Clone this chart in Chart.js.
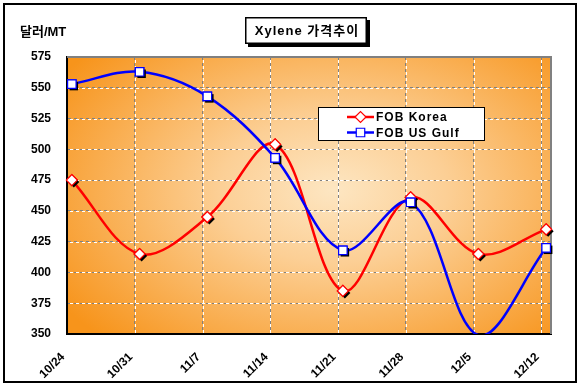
<!DOCTYPE html>
<html><head><meta charset="utf-8">
<script src="https://cdn.jsdelivr.net/npm/chart.js@4.4.0/dist/chart.umd.min.js"></script>
<style>html,body{margin:0;padding:0;background:#fff;}#wrap{position:relative;width:581px;height:387px;}</style>
</head><body><div id="wrap"><canvas id="c" width="581" height="387"></canvas></div>
<script>
const categories = ['10/24','10/31','11/7','11/14','11/21','11/28','12/5','12/12'];
const fobKorea   = [475, 415, 445, 504, 385, 461, 415, 435];
const fobUSGulf  = [553, 563, 543, 493, 418, 457, 349, 420];
const yTickValues = [350, 375, 400, 425, 450, 475, 500, 525, 550, 575];
const seriesNames = ['FOB Korea', 'FOB US Gulf'];
const chartTitle = 'Xylene 가격추이';
const yAxisTitle = '달러/MT';
const DAYS_PER_STEP = 7;

const FONT = "'Liberation Sans', 'Noto Sans CJK KR', Arial, sans-serif";
const RED = '#ff0000', BLUE = '#0000ff';
const Y_MIN = yTickValues[0], Y_MAX = yTickValues[yTickValues.length-1];

function toPoints(vals){ return vals.map((v,i)=>({x: i*DAYS_PER_STEP + 0.5, y: v})); }
function radii(vals, r){ return vals.map(v => (v < Y_MIN || v > Y_MAX) ? 0 : r); }
const xMax = (categories.length-1)*DAYS_PER_STEP + 1;

function marker(ctx, style, r, x, y, stroke, fill){
  ctx.save();
  ctx.fillStyle = fill; ctx.strokeStyle = stroke || fill; ctx.lineWidth = 1.2;
  Chart.helpers.drawPoint(ctx, {pointStyle: style, rotation: 0, radius: r, borderWidth: stroke ? 1.2 : 0}, x, y);
  ctx.restore();
}

const framePlugin = {
  id:'frame',
  beforeDraw(chart){
    const ctx = chart.ctx, a = chart.chartArea;
    ctx.save();
    ctx.fillStyle='#fff'; ctx.fillRect(0,0,chart.width,chart.height);
    ctx.strokeStyle='#000'; ctx.lineWidth=2;
    ctx.strokeRect(4,4,572,378);
    const w=a.right-a.left, h=a.bottom-a.top;
    const cx=a.left+w*0.55, cy=a.top+h*0.48;
    ctx.save();
    ctx.beginPath(); ctx.rect(a.left,a.top,w,h); ctx.clip();
    ctx.translate(cx,cy); ctx.scale(w/h*0.9,1);
    const r = h*0.75;
    const g = ctx.createRadialGradient(0,0,0,0,0,r);
    g.addColorStop(0,'#fde6c2');
    g.addColorStop(0.35,'#fccf95');
    g.addColorStop(1,'#f7941b');
    ctx.fillStyle=g; ctx.fillRect(-r*2,-r*2,r*4,r*4);
    ctx.restore();
    ctx.restore();
  },
  beforeDatasetsDraw(chart){
    const ctx=chart.ctx, a=chart.chartArea;
    ctx.save();
    ctx.strokeStyle='#ffffff'; ctx.lineWidth=1; ctx.setLineDash([3,3]); ctx.lineDashOffset=3;
    const ys=chart.scales.y, xs=chart.scales.x;
    ys.ticks.forEach(t=>{ if(t.value<=ys.min||t.value>=ys.max) return; const y=Math.round(ys.getPixelForValue(t.value))+0.5; ctx.beginPath(); ctx.moveTo(a.left,y); ctx.lineTo(a.right,y); ctx.stroke(); });
    xs.ticks.forEach(t=>{ if(t.value<=xs.min) return; const x=Math.round(xs.getPixelForValue(t.value))+0.5; ctx.beginPath(); ctx.moveTo(x,a.top); ctx.lineTo(x,a.bottom); ctx.stroke(); });
    ctx.setLineDash([]);
    ctx.strokeStyle='#808080'; ctx.lineWidth=2;
    ctx.beginPath(); ctx.moveTo(a.left,a.top); ctx.lineTo(a.right,a.top); ctx.lineTo(a.right,a.bottom); ctx.stroke();
    ctx.restore();
  },
  afterDatasetDraw(chart,args){
    const ctx=chart.ctx;
    const meta=args.meta;
    meta.data.forEach(pt=>{
      const o=pt.options;
      if(!o.radius) return;
      marker(ctx, o.pointStyle, o.radius, pt.x+2, pt.y+2, null, '#000');
      marker(ctx, o.pointStyle, o.radius, pt.x, pt.y, o.borderColor, '#fff');
    });
  },
  afterDraw(chart){
    const ctx=chart.ctx;
    ctx.save();
    const bx=245, by=17, bw=122, bh=27;
    ctx.fillStyle='#000'; ctx.fillRect(bx+3,by+3,bw,bh);
    ctx.fillStyle='#fff'; ctx.fillRect(bx,by,bw,bh);
    ctx.strokeStyle='#000'; ctx.lineWidth=1.5; ctx.strokeRect(bx+0.75,by+0.75,bw-1.5,bh-1.5);
    ctx.fillStyle='#000'; ctx.font='bold 13px '+FONT; ctx.textAlign='center'; ctx.textBaseline='middle';
    ctx.letterSpacing='1px';
    ctx.fillText(chartTitle,bx+bw/2+1,by+bh/2+1);
    ctx.textAlign='left'; ctx.font='bold 13px '+FONT; ctx.letterSpacing='0px';
    ctx.fillText(yAxisTitle,20,32);
    const lx=318, ly=107, lw=167, lh=34;
    ctx.fillStyle='#fff'; ctx.fillRect(lx,ly,lw,lh);
    ctx.strokeStyle='#000'; ctx.lineWidth=1; ctx.strokeRect(lx+0.5,ly+0.5,lw-1,lh-1);
    chart.data.datasets.forEach((ds,i)=>{
      const y = ly+10+i*15.5;
      ctx.strokeStyle=ds.borderColor; ctx.lineWidth=2.5;
      ctx.beginPath(); ctx.moveTo(347,y); ctx.lineTo(374,y); ctx.stroke();
      marker(ctx, ds.pointStyle, ds.pointStyle==='rect'?6:5.5, 360.5, y, ds.borderColor, '#fff');
      ctx.fillStyle='#000'; ctx.font='bold 12px '+FONT; ctx.textAlign='left'; ctx.textBaseline='middle';
      ctx.letterSpacing='1px';
      ctx.fillText(ds.label,376,y+1);
    });
    ctx.restore();
  }
};

new Chart(document.getElementById('c'),{
  type:'line',
  data:{
    datasets:[
      {label:seriesNames[0], data:toPoints(fobKorea), borderColor:RED, borderWidth:2.5, tension:0.35,
       pointStyle:'rectRot', pointRadius:radii(fobKorea,5.5), pointBackgroundColor:'#fff', pointBorderColor:RED, pointBorderWidth:1.2, order:1},
      {label:seriesNames[1], data:toPoints(fobUSGulf), borderColor:BLUE, borderWidth:2.5, tension:0.35,
       pointStyle:'rect', pointRadius:radii(fobUSGulf,6), pointBackgroundColor:'#fff', pointBorderColor:BLUE, pointBorderWidth:1.2, order:0}
    ]
  },
  options:{
    responsive:false, animation:false, devicePixelRatio:1,
    layout:{padding:{left:0,top:57,right:30,bottom:0}},
    plugins:{legend:{display:false},tooltip:{enabled:false},title:{display:false}},
    scales:{
      x:{type:'linear', min:0, max:xMax,
        afterBuildTicks(s){ s.ticks = categories.map((c,i)=>({value:i*DAYS_PER_STEP})); },
        afterFit(s){ s.height=53; },
        grid:{color:'#808080', lineWidth:1, drawTicks:false},
        border:{display:true,color:'#000',width:2,dash:[3,3]},
        ticks:{minRotation:45,maxRotation:45,autoSkip:false,padding:16,labelOffset:-4,color:'#000',font:{family:FONT,size:12,weight:'bold'},
          callback:(v)=>categories[Math.round(v/DAYS_PER_STEP)]}
      },
      y:{min:Y_MIN, max:Y_MAX,
        afterBuildTicks(s){ s.ticks = yTickValues.map(v=>({value:v})); },
        afterFit(s){ s.width=67; },
        grid:{color:'#808080', lineWidth:1, drawTicks:false},
        border:{display:true,color:'#000',width:2,dash:[3,3]},
        ticks:{padding:16,color:'#000',font:{family:FONT,size:12,weight:'bold'}}
      }
    }
  },
  plugins:[framePlugin]
});
</script></body></html>
